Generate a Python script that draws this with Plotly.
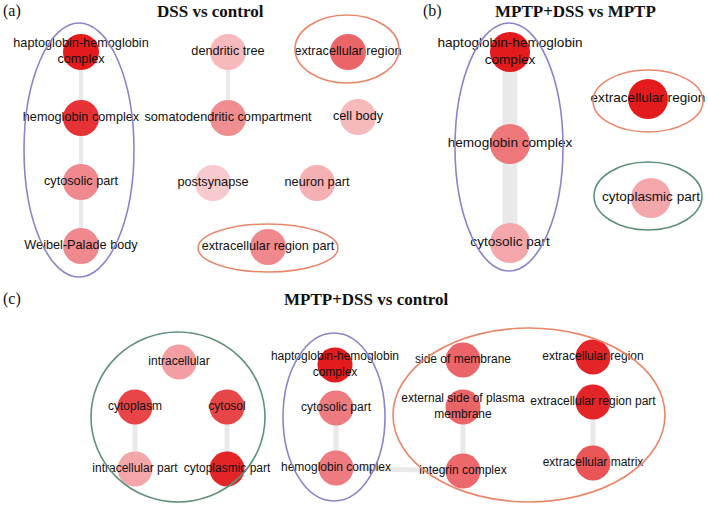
import plotly.graph_objects as go

# ---------------- data ----------------
# Panel (a): DSS vs control
a_terms = ["haptoglobin-hemoglobin<br>complex", "hemoglobin complex", "cytosolic part",
           "Weibel-Palade body", "dendritic tree", "somatodendritic compartment",
           "postsynapse", "neuron part", "cell body", "extracellular region",
           "extracellular region part"]
a_signif = [1.0, 0.88, 0.42, 0.42, 0.15, 0.4, 0.05, 0.2, 0.15, 0.62, 0.42]
a_links = [(0, 1), (1, 2), (2, 3), (4, 5)]

# Panel (b): MPTP+DSS vs MPTP
b_terms = ["haptoglobin-hemoglobin<br>complex", "hemoglobin complex", "cytosolic part",
           "extracellular region", "cytoplasmic part"]
b_signif = [1.0, 0.52, 0.25, 1.0, 0.25]
b_links = [(0, 1), (1, 2)]

# Panel (c): MPTP+DSS vs control
c_terms = ["intracellular", "cytoplasm", "cytosol", "intracellular part", "cytoplasmic part",
           "haptoglobin-hemoglobin<br>complex", "cytosolic part", "hemoglobin complex",
           "side of membrane", "external side of plasma<br>membrane", "integrin complex",
           "extracellular region", "extracellular region part", "extracellular matrix"]
c_signif = [0.3, 0.78, 0.78, 0.25, 0.95, 1.0, 0.5, 0.5, 0.62, 0.62, 0.6, 0.95, 0.95, 0.7]
c_links = [(1, 3), (2, 4), (6, 7), (7, 10), (9, 10), (12, 13)]

panel_titles = ["DSS vs control", "MPTP+DSS vs MPTP", "MPTP+DSS vs control"]
panel_tags = ["(a)", "(b)", "(c)"]

# ---------------- layout (pixel positions of the network layout) ----------------
a_pos_x = [81, 81, 81, 81, 228, 228, 213, 317, 358, 348, 268]
a_pos_y = [52, 118, 182, 246, 52, 118, 183, 183, 117, 52, 247]
b_pos_x = [510, 510, 510, 648, 651]
b_pos_y = [52, 144, 243, 99, 198]
c_pos_x = [179, 135, 227, 135, 227, 335, 336, 336, 463, 463, 463, 593, 593, 593]
c_pos_y = [362, 407, 407, 469, 469, 365, 408, 468, 360, 407, 471, 357, 402, 463]

PURPLE = "#8b84c9"
ORANGE = "#e8886b"
GREEN = "#5f9078"
# (cx, cy, rx, ry, color)
groups = [
    (79, 150, 55, 127, PURPLE), (347, 49, 52, 34, ORANGE), (268, 248, 70, 24, ORANGE),
    (509, 147, 54, 124, PURPLE), (648, 101, 55, 31, ORANGE), (648, 196, 54, 34, GREEN),
    (178, 417, 87, 85, GREEN), (334, 417, 51, 84, PURPLE), (529, 415, 136, 87, ORANGE),
]

scale = [[0, "#f9d3d6"], [0.5, "#ee7b7f"], [1, "#e31b1d"]]

W, H = 708, 505

fig = go.Figure()

panels = [
    (a_terms, a_signif, a_links, a_pos_x, a_pos_y, 4, 36, 12.7),
    (b_terms, b_signif, b_links, b_pos_x, b_pos_y, 15, 40, 13.6),
    (c_terms, c_signif, c_links, c_pos_x, c_pos_y, 5, 35, 12),
]

for terms, sig, links, px, py, ew, ns, fs in panels:
    ex, ey = [], []
    for i, j in links:
        ex += [px[i], px[j], None]
        ey += [py[i], py[j], None]
    fig.add_trace(go.Scatter(x=ex, y=ey, mode="lines",
                             line=dict(color="#e9e9e9", width=ew),
                             hoverinfo="skip", showlegend=False))
    fig.add_trace(go.Scatter(
        x=px, y=py, mode="markers+text", text=terms, textposition="middle center",
        textfont=dict(family="Liberation Sans, Arial, sans-serif", size=fs, color="#111111"),
        marker=dict(size=ns, color=sig, colorscale=scale, cmin=0, cmax=1,
                    line=dict(width=0)),
        hoverinfo="text", showlegend=False, cliponaxis=False))

for cx, cy, rx, ry, col in groups:
    fig.add_shape(type="circle", xref="x", yref="y",
                  x0=cx - rx, x1=cx + rx, y0=cy - ry, y1=cy + ry,
                  line=dict(color=col, width=1.6), layer="above")

title_pos = [(210, 11), (575, 11), (366, 299)]
tag_pos = [(12, 11), (432, 11), (12, 299)]
for t, (x, y) in zip(panel_titles, title_pos):
    fig.add_annotation(x=x, y=y, text="<b>" + t + "</b>", showarrow=False,
                       xanchor="center", yanchor="middle",
                       font=dict(family="Liberation Serif, Times New Roman, serif",
                                 size=17, color="#111111"))
for t, (x, y) in zip(panel_tags, tag_pos):
    fig.add_annotation(x=x, y=y, text=t, showarrow=False,
                       xanchor="center", yanchor="middle",
                       font=dict(family="Liberation Serif, Times New Roman, serif",
                                 size=16, color="#111111"))

fig.update_layout(
    width=W, height=H, margin=dict(l=0, r=0, t=0, b=0),
    paper_bgcolor="white", plot_bgcolor="white",
    xaxis=dict(range=[0, W], visible=False, fixedrange=True),
    yaxis=dict(range=[H, 0], visible=False, fixedrange=True),
)

# remove the default 8px page margin so the figure fills the window exactly
fig.write_html("out.html", config={"displayModeBar": False},
               post_script="document.body.style.margin='0';document.body.style.overflow='hidden';")
